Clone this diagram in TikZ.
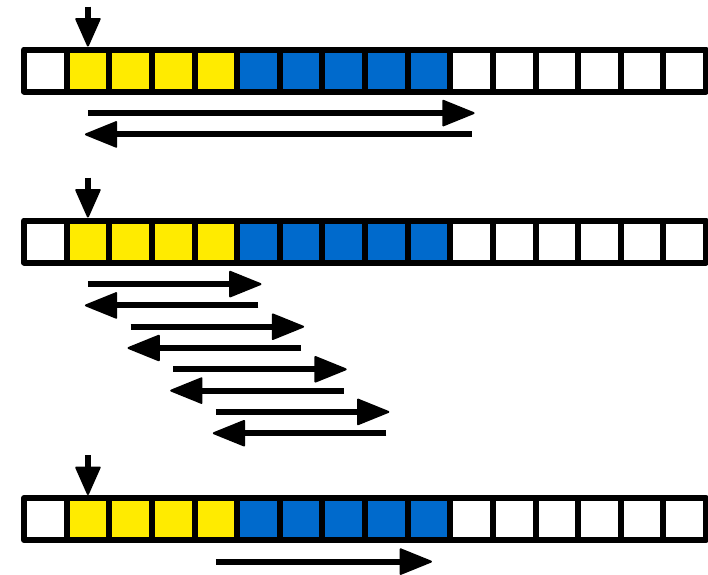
\documentclass[tikz,border=0pt]{standalone}
\usetikzlibrary{arrows.meta,calc}
\definecolor{qyellow}{RGB}{255,235,0}
\definecolor{qblue}{RGB}{0,106,204}
\begin{document}
\begin{tikzpicture}[x=1pt,y=-1pt,
  cell/.style={draw=black,line width=6pt,line join=round,minimum width=42.625pt,
    minimum height=42pt,inner sep=0pt},
  arr/.style={line width=6pt,shorten >=-3pt,
    -{Triangle[length=34pt,width=27pt,round,line width=2pt]}},
  pointer/.style={line width=6pt,
    -{Triangle[length=30pt,width=26pt,round,line width=2pt]}}]
  \useasboundingbox (0,0) rectangle (708,574);

  % three strips of sixteen cells each
  \foreach \r/\yc in {1/70.5,2/241.5,3/519}{
    \foreach \c in {0,10,11,12,13,14,15}
      \node[cell,fill=white] (r\r-\c) at ({24+42.625*(\c+0.5)},\yc) {};
    \foreach \c in {1,...,4}
      \node[cell,fill=qyellow] (r\r-\c) at ({24+42.625*(\c+0.5)},\yc) {};
    \foreach \c in {5,...,9}
      \node[cell,fill=qblue] (r\r-\c) at ({24+42.625*(\c+0.5)},\yc) {};
  }

  % pointers onto the first yellow cell
  \foreach \r in {1,2,3}{
    \coordinate (p\r) at ($(r\r-1.north)+(0,-40)$);
    \draw[pointer] (p\r) -- (r\r-1.north);
  }

  % strip 1: one long pass there and back
  \coordinate (a1s) at ($(r1-1.center)+(0,42.6)$);
  \coordinate (a1e) at ($(r1-10.center)+(0,42.6)$);
  \coordinate (b1s) at ($(r1-10.center)+(0,63.9)$);
  \coordinate (b1e) at ($(r1-1.center)+(0,63.9)$);
  \draw[arr] (a1s) -- (a1e);
  \draw[arr] (b1s) -- (b1e);

  % strip 2: four short passes, each shifted by one cell
  \foreach \k in {0,...,3}{
    \pgfmathtruncatemacro{\s}{1+\k}
    \pgfmathtruncatemacro{\e}{5+\k}
    \coordinate (a2s\k) at ($(r2-\s.center)+(0,{42.6+42.6*\k})$);
    \coordinate (a2e\k) at ($(r2-\e.center)+(0,{42.6+42.6*\k})$);
    \coordinate (b2s\k) at ($(r2-\e.center)+(0,{63.9+42.6*\k})$);
    \coordinate (b2e\k) at ($(r2-\s.center)+(0,{63.9+42.6*\k})$);
    \draw[arr] (a2s\k) -- (a2e\k);
    \draw[arr] (b2s\k) -- (b2e\k);
  }

  % strip 3: a single forward pass
  \coordinate (a3s) at ($(r3-4.center)+(0,42.6)$);
  \coordinate (a3e) at ($(r3-9.center)+(0,42.6)$);
  \draw[arr] (a3s) -- (a3e);
\end{tikzpicture}
\end{document}
